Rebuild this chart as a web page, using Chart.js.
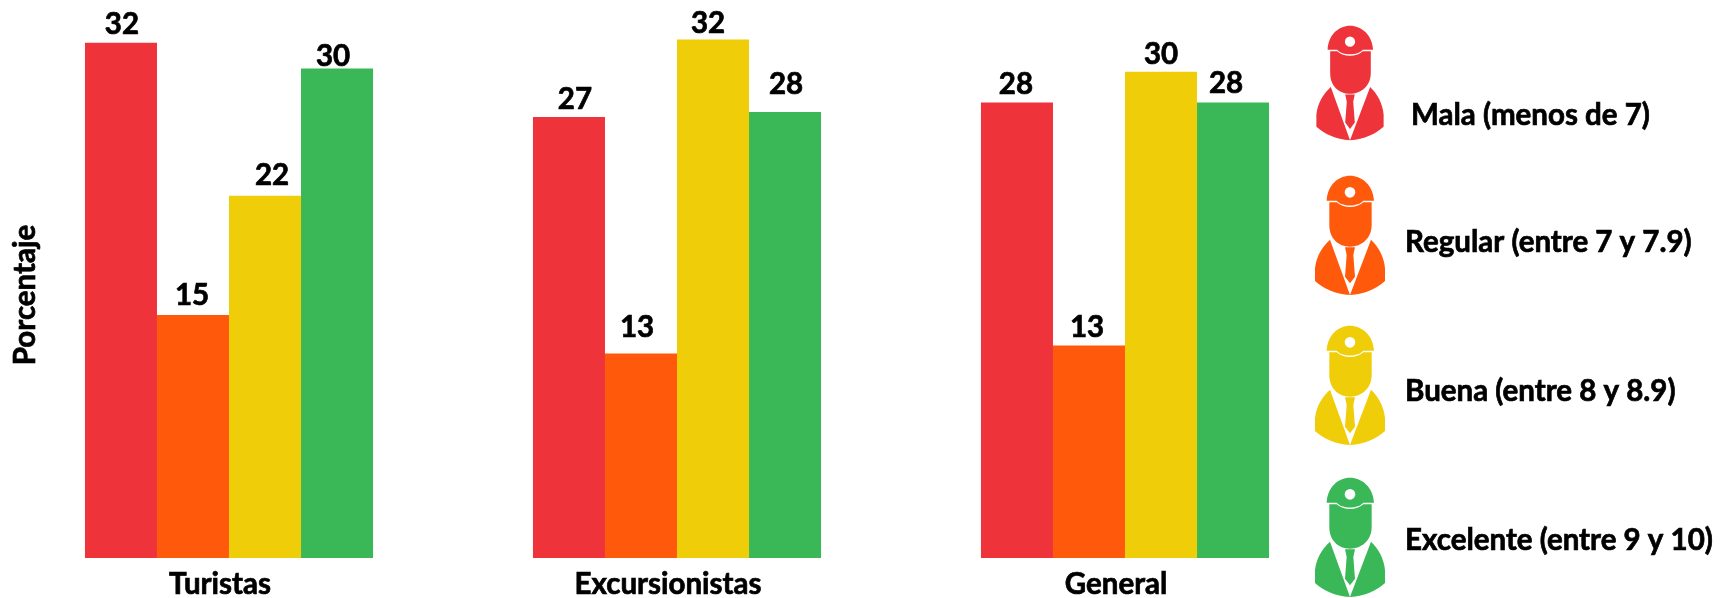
<!DOCTYPE html>
<html>
<head>
<meta charset="utf-8">
<title>Porcentaje</title>
<script src="https://cdn.jsdelivr.net/npm/chart.js@4"></script>
<style>
  html, body { margin: 0; padding: 0; background: #fff; }
  canvas { display: block; }
</style>
</head>
<body>
<canvas id="chart" width="1727" height="598"></canvas>
<script>
const categories = ['Turistas', 'Excursionistas', 'General'];
const seriesNames = ['Mala (menos de 7)', 'Regular (entre 7 y 7.9)', 'Buena (entre 8 y 8.9)', 'Excelente (entre 9 y 10)'];

// bar heights as measured on the picture, the printed labels are rounded
const mala = [32.0, 27.4, 28.3];
const regular = [15.1, 12.7, 13.2];
const buena = [22.5, 32.2, 30.2];
const excelente = [30.4, 27.7, 28.3];

const malaLabels = ['32', '27', '28'];
const regularLabels = ['15', '13', '13'];
const buenaLabels = ['22', '32', '30'];
const excelenteLabels = ['30', '28', '28'];

const colors = ['#EE343A', '#FF5A0C', '#F0CD09', '#3AB757'];

const FONT = 'bold 29.5px Lato';
const STROKE = 0.7;
const LABEL_GAP = 9;

// the labels were placed by hand in the original, [dx, dy] per bar
const labelNudge = [
  [[1, 0], [6, 1], [-1, 1]],
  [[-1, -1], [-4, -8], [-2, 1]],
  [[7, -2], [-5, 2], [0, 1]],
  [[-4, 6], [1, -9], [-7, 0]]
];

// legend rows: icon top, icon scale, text x, text baseline
const legendRows = [
  { top: 25, scale: 0.32, textX: 1411, textY: 125 },
  { top: 175, scale: 1 / 3, textX: 1405, textY: 252 },
  { top: 325, scale: 1 / 3, textX: 1405, textY: 401 },
  { top: 477, scale: 1 / 3, textX: 1405, textY: 550 }
];

// person icon, drawn on a 210 x 363 box
const iconHat = new Path2D('M35 77 C37 30 70 2 105 2 C140 2 175 30 177 77 L145 77 C130 96 80 96 65 77 Z M121 52 A16 16 0 1 0 89 52 A16 16 0 1 0 121 52 Z');
const iconHead = new Path2D('M43 82 L65 82 C85 101 125 101 145 82 L170 82 L170 150 C170 190 140 215 105 215 C70 215 43 190 43 150 Z');
const iconLeft = new Path2D('M45 194 L105 360 C60 358 25 340 0 318 L0 280 C3 245 22 215 45 194 Z');
const iconRight = new Path2D('M168 194 L105 360 C150 358 185 340 210 318 L210 280 C207 245 190 215 168 194 Z');
const iconTie = new Path2D('M90 217 L120 217 L115 240 L120 305 L105 325 L90 305 L95 240 Z');

function boldText(ctx, text, x, y) {
  ctx.fillText(text, x, y);
  ctx.strokeText(text, x, y);
}

const drawExtras = {
  id: 'drawExtras',
  afterDatasetsDraw(chart) {
    const ctx = chart.ctx;
    const valueLabels = [malaLabels, regularLabels, buenaLabels, excelenteLabels];

    ctx.save();
    ctx.fillStyle = '#000';
    ctx.strokeStyle = '#000';
    ctx.lineWidth = STROKE;
    ctx.font = FONT;
    ctx.textAlign = 'center';
    ctx.textBaseline = 'alphabetic';
    valueLabels.forEach((labels, s) => {
      chart.getDatasetMeta(s).data.forEach((bar, i) => {
        const nudge = labelNudge[s][i];
        boldText(ctx, labels[i], bar.x + nudge[0], bar.y - LABEL_GAP + nudge[1]);
      });
    });

    // y title sits lower than the axis middle, so it is not the scale title
    ctx.save();
    ctx.translate(35, 295);
    ctx.rotate(-Math.PI / 2);
    boldText(ctx, 'Porcentaje', 0, 0);
    ctx.restore();

    // legend
    ctx.textAlign = 'left';
    legendRows.forEach((row, s) => {
      ctx.fillStyle = '#000';
      boldText(ctx, seriesNames[s], row.textX, row.textY);

      ctx.save();
      ctx.translate(1350 - 105 * row.scale, row.top);
      ctx.scale(row.scale, row.scale);
      ctx.fillStyle = colors[s];
      ctx.fill(iconHat, 'evenodd');
      ctx.fill(iconHead);
      ctx.fill(iconLeft);
      ctx.fill(iconRight);
      ctx.fill(iconTie);
      ctx.restore();
    });
    ctx.restore();
  }
};

new Chart(document.getElementById('chart'), {
  type: 'bar',
  data: {
    labels: categories,
    datasets: [mala, regular, buena, excelente].map((values, s) => ({
      label: seriesNames[s],
      data: values,
      backgroundColor: colors[s],
      borderWidth: 0,
      categoryPercentage: 0.643,
      barPercentage: 1
    }))
  },
  options: {
    responsive: false,
    animation: false,
    devicePixelRatio: 1,
    layout: { padding: { left: 5, right: 378, top: 0, bottom: 0 } },
    plugins: {
      legend: { display: false },
      title: { display: false },
      tooltip: { enabled: false }
    },
    scales: {
      x: {
        border: { display: false },
        grid: { display: false },
        ticks: {
          color: '#000',
          font: { family: 'Lato', size: 29.5, weight: 'bold' },
          textStrokeColor: '#000',
          textStrokeWidth: STROKE,
          padding: 1,
          labelOffset: -9,
          maxRotation: 0
        },
        afterFit(scale) { scale.height = 40; }
      },
      y: {
        display: false,
        min: 0,
        max: 34.66
      }
    }
  },
  plugins: [drawExtras]
});
</script>
</body>
</html>
